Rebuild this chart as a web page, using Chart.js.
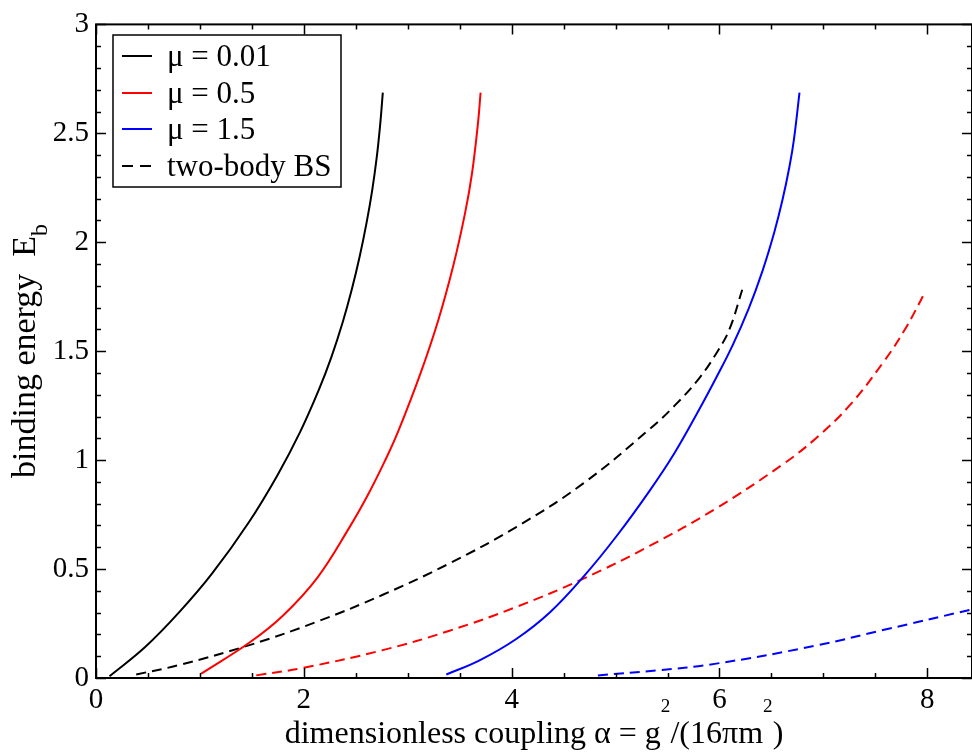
<!DOCTYPE html>
<html>
<head>
<meta charset="utf-8">
<script src="https://cdn.jsdelivr.net/npm/chart.js@4"></script>
<style>
  body { margin: 0; background: #ffffff; }
</style>
</head>
<body>
<canvas id="chart" width="972" height="755"></canvas>
<script>
// curves, [alpha, E_b]
const mu001 = [[0.13, 0.008], [0.473, 0.142], [0.799, 0.301], [1.118, 0.48], [1.471, 0.715], [1.745, 0.93], [1.966, 1.131], [2.148, 1.327], [2.265, 1.473], [2.374, 1.633], [2.462, 1.784], [2.539, 1.938], [2.604, 2.09], [2.659, 2.242], [2.703, 2.395], [2.736, 2.547], [2.76, 2.687]];
const mu05 = [[1.013, 0.02], [1.481, 0.164], [1.798, 0.286], [2.131, 0.461], [2.436, 0.689], [2.616, 0.84], [2.778, 0.994], [2.907, 1.131], [3.121, 1.396], [3.293, 1.641], [3.438, 1.892], [3.552, 2.135], [3.619, 2.318], [3.676, 2.547], [3.701, 2.687]];
const mu15 = [[3.371, 0.016], [3.691, 0.081], [4.044, 0.179], [4.372, 0.303], [4.702, 0.471], [5.014, 0.654], [5.327, 0.859], [5.569, 1.034], [5.81, 1.237], [5.968, 1.378], [6.126, 1.527], [6.282, 1.697], [6.414, 1.869], [6.526, 2.044], [6.607, 2.196], [6.674, 2.349], [6.716, 2.47], [6.77, 2.687]];
const twoBody001 = [[0.387, 0.016], [0.804, 0.06], [1.477, 0.151], [2.119, 0.257], [2.76, 0.382], [3.402, 0.526], [4.044, 0.693], [4.686, 0.892], [5.327, 1.142], [5.568, 1.25], [5.808, 1.378], [5.981, 1.499], [6.097, 1.602], [6.219, 1.782]];
const twoBody05 = [[1.542, 0.012], [2.0, 0.047], [2.76, 0.128], [3.402, 0.217], [4.044, 0.326], [4.686, 0.455], [5.327, 0.606], [5.969, 0.779], [6.61, 0.981], [6.932, 1.102], [7.252, 1.251], [7.573, 1.447], [7.781, 1.597], [7.984, 1.776]];
const twoBody15 = [[4.83, 0.012], [5.40, 0.035], [5.969, 0.066], [6.932, 0.149], [7.573, 0.22], [8.43, 0.315]];

const legendLabels = ['μ = 0.01', 'μ = 0.5', 'μ = 1.5', 'two-body BS'];
const xTicks = [0, 2, 4, 6, 8];
const yTicks = [0, 0.5, 1, 1.5, 2, 2.5, 3];
const xMax = 8.43;
const yMax = 3;

const serif = '"Liberation Serif", "DejaVu Serif", serif';
const dash = [10, 6];

function pts(arr) {
    return arr.map((p) => ({ x: p[0], y: p[1] }));
}

function series(label, data, color, dashed) {
    return {
        label: label,
        data: pts(data),
        borderColor: color,
        backgroundColor: color,
        borderWidth: 2,
        borderDash: dashed ? dash : [],
        pointRadius: 0,
        fill: false,
        tension: 0.4,
    };
}

// text with sub/superscripts, drawn left to right from a baseline point
function partSize(p, size) {
    if (p.sup) return size * 0.6;
    if (p.sub) return size * 0.7;
    return size;
}
function richWidth(ctx, parts, size) {
    let w = 0;
    parts.forEach((p) => {
        ctx.font = partSize(p, size) + 'px ' + serif;
        w += ctx.measureText(p.t).width;
    });
    return w;
}
function drawRich(ctx, parts, x, y, size) {
    parts.forEach((p) => {
        ctx.font = partSize(p, size) + 'px ' + serif;
        let dy = 0;
        if (p.sup) dy = -31;
        if (p.sub) dy = size * 0.36;
        ctx.fillText(p.t, x, y + dy);
        x += ctx.measureText(p.t).width;
    });
}

const xTitle = [{ t: 'dimensionless coupling α = g' }, { t: '2', sup: true }, { t: '/(16πm' }, { t: '2', sup: true }, { t: ')' }];
const yTitle = [{ t: 'binding energy  E' }, { t: 'b', sub: true }];

const frame = {
    id: 'frame',
    afterDraw(chart) {
        const ctx = chart.ctx;
        const a = chart.chartArea;
        const xs = chart.scales.x;
        const ys = chart.scales.y;
        ctx.save();
        ctx.strokeStyle = '#000';
        ctx.lineWidth = 2;
        ctx.setLineDash([]);
        ctx.strokeRect(a.left, a.top, a.right - a.left, a.bottom - a.top);

        // inward ticks on all four sides
        ctx.lineWidth = 1.5;
        ctx.beginPath();
        for (let v = 0; v <= xMax + 1e-9; v += 0.5) {
            const px = Math.round(xs.getPixelForValue(v)) + 0.5;
            const len = Math.abs(v % 2) < 1e-9 ? 10 : 5;
            ctx.moveTo(px, a.bottom); ctx.lineTo(px, a.bottom - len);
            ctx.moveTo(px, a.top); ctx.lineTo(px, a.top + len);
        }
        for (let i = 0; i <= yMax * 10; i++) {
            const py = Math.round(ys.getPixelForValue(i / 10)) + 0.5;
            const len = i % 5 === 0 ? 10 : 5;
            ctx.moveTo(a.left, py); ctx.lineTo(a.left + len, py);
            ctx.moveTo(a.right, py); ctx.lineTo(a.right - len, py);
        }
        ctx.stroke();

        // legend box
        const lx = 113, ly = 35, lw = 228, lh = 152;
        ctx.fillStyle = '#fff';
        ctx.fillRect(lx, ly, lw, lh);
        ctx.lineWidth = 1.5;
        ctx.strokeRect(lx, ly, lw, lh);
        const rowY = [56, 93, 129, 166];
        chart.data.datasets.slice(0, 4).forEach((ds, i) => {
            ctx.strokeStyle = ds.borderColor;
            ctx.lineWidth = 2;
            ctx.setLineDash(i === 3 ? [11, 7] : []);
            ctx.beginPath();
            ctx.moveTo(122, rowY[i]);
            ctx.lineTo(152, rowY[i]);
            ctx.stroke();
            ctx.fillStyle = '#000';
            ctx.font = '31px ' + serif;
            ctx.textBaseline = 'alphabetic';
            ctx.textAlign = 'left';
            ctx.fillText(legendLabels[i], 167, rowY[i] + 10);
        });
        ctx.setLineDash([]);

        // axis titles
        ctx.fillStyle = '#000';
        ctx.textAlign = 'left';
        ctx.textBaseline = 'alphabetic';
        const xw = richWidth(ctx, xTitle, 32);
        drawRich(ctx, xTitle, (a.left + a.right) / 2 - xw / 2, 743, 32);

        const yw = richWidth(ctx, yTitle, 34);
        ctx.translate(35, 351);
        ctx.rotate(-Math.PI / 2);
        drawRich(ctx, yTitle, -yw / 2, 0, 34);
        ctx.restore();
    },
};

new Chart(document.getElementById('chart'), {
    type: 'line',
    data: {
        datasets: [
            series(legendLabels[0], mu001, '#000000', false),
            series(legendLabels[1], mu05, '#ff0000', false),
            series(legendLabels[2], mu15, '#0000ff', false),
            series(legendLabels[3], twoBody001, '#000000', true),
            series(legendLabels[3] + ' μ=0.5', twoBody05, '#ff0000', true),
            series(legendLabels[3] + ' μ=1.5', twoBody15, '#0000ff', true),
        ],
    },
    options: {
        responsive: false,
        animation: false,
        layout: { padding: { top: 20, right: 0, left: 0, bottom: 0 } },
        scales: {
            x: {
                type: 'linear',
                min: 0,
                max: xMax,
                afterFit: (s) => { s.height = 77; },
                afterBuildTicks: (s) => { s.ticks = xTicks.map((v) => ({ value: v })); },
                grid: { display: false, drawTicks: false },
                border: { display: false },
                ticks: {
                    color: '#000',
                    padding: 5,
                    maxRotation: 0,
                    autoSkip: false,
                    font: { family: serif, size: 29 },
                    callback: (v) => String(v),
                },
            },
            y: {
                type: 'linear',
                min: 0,
                max: yMax,
                afterFit: (s) => { s.width = 96; },
                afterBuildTicks: (s) => { s.ticks = yTicks.map((v) => ({ value: v })); },
                grid: { display: false, drawTicks: false },
                border: { display: false },
                ticks: {
                    color: '#000',
                    padding: 7,
                    autoSkip: false,
                    font: { family: serif, size: 29 },
                    callback: (v) => String(v),
                },
            },
        },
        plugins: {
            legend: { display: false },
            tooltip: { enabled: false },
        },
    },
    plugins: [frame],
});
</script>
</body>
</html>
